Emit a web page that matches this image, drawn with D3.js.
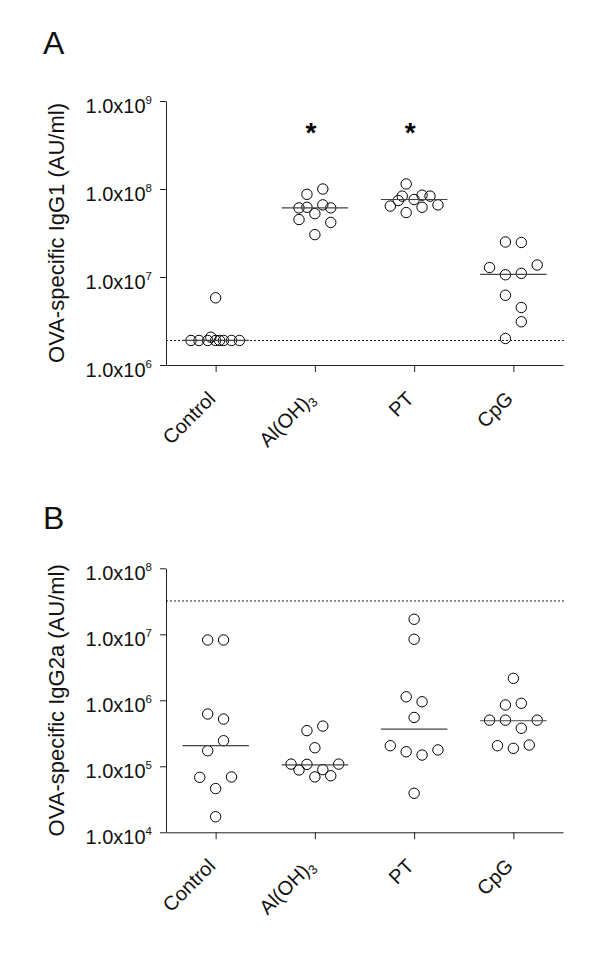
<!DOCTYPE html>
<html><head><meta charset="utf-8">
<script src="https://cdn.jsdelivr.net/npm/d3@7"></script>
<style>
body{margin:0;background:#fff;}
svg{display:block;font-family:"Liberation Sans",Arial,sans-serif;}
</style></head>
<body><svg id="c" width="600" height="955"></svg>
<script>
// ---- data ----
const categories = ["Control", "Al(OH)3", "PT", "CpG"];

// Panel A: OVA-specific IgG1 (AU/ml)
const igg1Control = [1.9e6, 1.9e6, 1.9e6, 2.07e6, 1.9e6, 1.9e6, 1.9e6, 1.9e6, 1.9e6, 5.8e6];
const igg1AlOH3   = [1.0e8, 8.7e7, 6.1e7, 6.2e7, 6.6e7, 6.1e7, 5.25e7, 4.5e7, 4.17e7, 3.03e7];
const igg1PT      = [1.14e8, 8.3e7, 7.4e7, 7.6e7, 8.5e7, 8.3e7, 6.4e7, 6.2e7, 6.6e7, 5.4e7];
const igg1CpG     = [2.5e7, 2.47e7, 1.28e7, 1.37e7, 1.06e7, 1.1e7, 6.2e6, 4.5e6, 3.1e6, 2.0e6];
const igg1Median  = [1.9e6, 6.1e7, 7.6e7, 1.07e7];
const igg1Limit   = 1.9e6;
const igg1Sig     = ["", "*", "*", ""];
const igg1Ticks   = [1e6, 1e7, 1e8, 1e9];

// Panel B: OVA-specific IgG2a (AU/ml)
const igg2aControl = [8.2e6, 8.2e6, 6.2e5, 5.2e5, 2.44e5, 1.72e5, 6.8e4, 6.9e4, 4.6e4, 1.72e4];
const igg2aAlOH3   = [3.47e5, 4.07e5, 1.91e5, 1.08e5, 1.07e5, 1.08e5, 8.8e4, 8.9e4, 6.9e4, 7.2e4];
const igg2aPT      = [1.69e7, 8.4e6, 1.13e6, 9.5e5, 5.5e5, 2.05e5, 1.66e5, 1.48e5, 1.77e5, 3.9e4];
const igg2aCpG     = [2.15e6, 8.5e5, 9.0e5, 5.0e5, 5.0e5, 5.0e5, 3.77e5, 2.05e5, 1.87e5, 2.1e5];
const igg2aMedian  = [2.05e5, 1.05e5, 3.67e5, 4.9e5];
const igg2aLimit   = 3.2e7;
const igg2aTicks   = [1e4, 1e5, 1e6, 1e7, 1e8];

// horizontal spread (column slot index) of each point within its group
const jitA = [
  [-3.1, -2.1, -1, -0.6, 0, 0.5, 1, 2, 3, 0],
  [1, -1, -2, -1, 1, 2, 0, -2, 2, 0],
  [-1, -1.5, -2, 0, 1, 2, -3, 1, 3, -1],
  [-1, 1, -3, 3, -1, 1, -1, 1, 1, -1]
];
const jitB = [
  [-1, 1, -1, 1, 1, -1, -2, 2, 0, 0],
  [-1, 1, 0, -3, -1, 3, -2, 1, 0, 2],
  [0, 0, -1, 1, 0, -3, -1, 1, 3, 0],
  [0, -1, 1, -3, -1, 3, 1, -2, 0, 2]
];

// ---- drawing ----
const svg = d3.select("#c");
const FONT = 20;
const INK = "#111";

function drawPanel(cfg) {
  const g = svg.append("g");
  const x = d3.scalePoint().domain(categories).range([166, 563]).padding(0.5);
  const y = d3.scaleLog().domain([cfg.ticks[0], cfg.ticks[cfg.ticks.length - 1]]).range([cfg.bottom, cfg.top]);
  const slot = x.step() * 0.08;
  const halfMed = x.step() * 0.335;

  // panel letter
  g.append("text").attr("x", 43).attr("y", cfg.letterY).attr("font-size", 32).attr("fill", INK).text(cfg.letter);

  // y axis
  const ya = g.append("g").attr("transform", "translate(166,0)")
    .call(d3.axisLeft(y).tickValues(cfg.ticks).tickSize(6).tickSizeOuter(0).tickFormat(""));
  ya.select(".domain").attr("stroke", "#222");
  ya.selectAll(".tick line").attr("stroke", "#222");
  ya.selectAll(".tick").each(function(d) {
    const t = d3.select(this).append("text").attr("x", -14).attr("y", 11)
      .attr("text-anchor", "end").attr("font-size", FONT).attr("fill", INK);
    t.append("tspan").text("1.0x10");
    t.append("tspan").attr("dy", -8.5).attr("font-size", 11.5).text(Math.round(Math.log10(d)));
  });

  // y title
  g.append("text")
    .attr("transform", `translate(${cfg.titleX},${(cfg.top + cfg.bottom) / 2}) rotate(-90)`)
    .attr("text-anchor", "middle").attr("font-size", 22).attr("fill", INK).text(cfg.title);

  // x axis
  const xa = g.append("g").attr("transform", `translate(0,${cfg.bottom})`)
    .call(d3.axisBottom(x).tickSize(7).tickSizeOuter(0).tickFormat(""));
  xa.select(".domain").attr("stroke", "#222");
  xa.selectAll(".tick line").attr("stroke", "#222");
  categories.forEach(c => {
    const t = g.append("text")
      .attr("transform", `translate(${x(c) + 1},${cfg.bottom + 35}) rotate(-45)`)
      .attr("text-anchor", "end").attr("font-size", FONT).attr("fill", INK);
    if (c === "Al(OH)3") {
      t.append("tspan").text("Al(OH)");
      t.append("tspan").attr("dy", 4).attr("font-size", 13).text("3");
    } else {
      t.text(c);
    }
  });

  // detection limit
  g.append("line").attr("x1", 166).attr("x2", 565)
    .attr("y1", y(cfg.limit)).attr("y2", y(cfg.limit))
    .attr("stroke", "#000").attr("stroke-width", 0.9).attr("stroke-dasharray", "2,2");

  // points
  cfg.groups.forEach((vals, i) => {
    const cx = x(categories[i]);
    g.append("g").selectAll("circle").data(vals).join("circle")
      .attr("cx", (d, j) => cx + cfg.jitter[i][j] * slot)
      .attr("cy", d => y(d))
      .attr("r", 5.2)
      .attr("fill", "none").attr("stroke", "#000").attr("stroke-width", 1);
    // median
    g.append("line").attr("x1", cx - halfMed).attr("x2", cx + halfMed)
      .attr("y1", y(cfg.median[i])).attr("y2", y(cfg.median[i]))
      .attr("stroke", "#444").attr("stroke-width", 1.2);
    if (cfg.sig && cfg.sig[i]) {
      g.append("text").attr("x", cx - 4).attr("y", y(5e8) + 15)
        .attr("text-anchor", "middle").attr("font-size", 28).attr("font-weight", "bold").text(cfg.sig[i]);
    }
  });
}

drawPanel({
  letter: "A", letterY: 54, top: 101, bottom: 365, ticks: igg1Ticks, limit: igg1Limit,
  title: "OVA-specific IgG1 (AU/ml)", titleX: 64,
  groups: [igg1Control, igg1AlOH3, igg1PT, igg1CpG], median: igg1Median, jitter: jitA, sig: igg1Sig
});
drawPanel({
  letter: "B", letterY: 529, top: 568.3, bottom: 832.3, ticks: igg2aTicks, limit: igg2aLimit,
  title: "OVA-specific IgG2a (AU/ml)", titleX: 64,
  groups: [igg2aControl, igg2aAlOH3, igg2aPT, igg2aCpG], median: igg2aMedian, jitter: jitB
});
</script></body></html>
